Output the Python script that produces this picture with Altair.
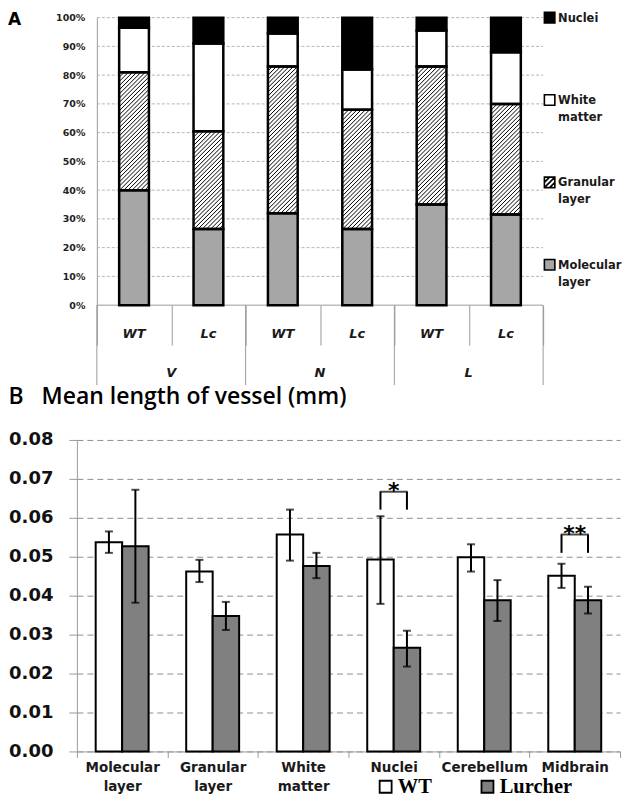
import altair as alt
import pandas as pd

# ---------------- Panel A data (percent of vessel length per layer) ----------------
a_regions = ["V", "V", "N", "N", "L", "L"]
a_genotypes = ["WT", "Lc", "WT", "Lc", "WT", "Lc"]
a_region_order = ["V", "N", "L"]
a_layers = ["Molecular layer", "Granular layer", "White matter", "Nuclei"]  # bottom -> top
a_molecular = [40.0, 26.5, 32.0, 26.5, 35.0, 31.5]
a_granular = [41.0, 34.0, 51.0, 41.5, 48.0, 38.5]
a_white = [15.5, 30.5, 11.5, 14.0, 12.5, 18.0]
a_nuclei = [3.5, 9.0, 5.5, 18.0, 4.5, 12.0]
a_y_ticks = [0, 10, 20, 30, 40, 50, 60, 70, 80, 90, 100]

# ---------------- Panel B data (mean length of vessel, mm) ----------------
b_categories = ["Molecular layer", "Granular layer", "White matter", "Nuclei", "Cerebellum", "Midbrain"]
b_groups = ["WT", "Lurcher"]
b_wt_mean = [0.0537, 0.0462, 0.0557, 0.0493, 0.0499, 0.0451]
b_wt_low = [0.0510, 0.0435, 0.0490, 0.0379, 0.0462, 0.0420]
b_wt_high = [0.0565, 0.0492, 0.0621, 0.0604, 0.0532, 0.0482]
b_lc_mean = [0.0527, 0.0348, 0.0476, 0.0266, 0.0388, 0.0388]
b_lc_low = [0.0382, 0.0312, 0.0445, 0.0218, 0.0335, 0.0354]
b_lc_high = [0.0672, 0.0384, 0.0510, 0.0310, 0.0440, 0.0423]
b_y_ticks = [0.0, 0.01, 0.02, 0.03, 0.04, 0.05, 0.06, 0.07, 0.08]
sig_categories = ["Nuclei", "Midbrain"]
sig_labels = ["*", "**"]
sig_top = [0.0667, 0.0557]
sig_leg = [0.0621, 0.0510]

# ---------------- sizes / styles ----------------
N_A = len(a_genotypes)
CAT_PX = 74.5              # width of one category in panel A
SHIFT_PX = 20              # panel A axis sits 20px right of panel B axis
W_A, H_A = CAT_PX * N_A + SHIFT_PX, 288
W_B, H_B = 544, 312
GRAY = "#9a9a9a"
BAR_W = 0.4                # bar width in category units (panel A)
HATCH_PX = 4.2             # vertical spacing of hatch lines in px
LEG_STEP_PX = 82.5         # vertical spacing of panel A legend entries

# ---------------- Panel A tables ----------------
rows = []
for i in range(N_A):
    vals = [a_molecular[i], a_granular[i], a_white[i], a_nuclei[i]]
    base = 0.0
    for lay, v in zip(a_layers, vals):
        rows.append(dict(idx=i, layer=lay, x0=i + 0.5 - BAR_W / 2, x1=i + 0.5 + BAR_W / 2,
                         y0=base, y1=base + v))
        base += v
dfA = pd.DataFrame(rows)

# hatch lines (45 degrees in pixel space) clipped to granular segments
px_y = H_A / 100.0
k = CAT_PX / px_y
step = HATCH_PX / px_y
hatch = []
for r in rows:
    if r["layer"] != "Granular layer":
        continue
    xL, xR, lo, hi = r["x0"], r["x1"], r["y0"], r["y1"]
    c = lo - k * (xR - xL)
    while c < hi:
        xa, ya = xL, c
        if ya < lo:
            xa, ya = xL + (lo - c) / k, lo
        xb, yb = xR, c + k * (xR - xL)
        if yb > hi:
            xb, yb = xL + (hi - c) / k, hi
        if xb > xa + 1e-6:
            hatch.append(dict(hx0=xa, hx1=xb, hy0=ya, hy1=yb))
        c += step
dfH = pd.DataFrame(hatch)

dfGrid = pd.DataFrame(dict(gv=a_y_ticks[1:], gx0=0, gx1=N_A))
dfBase = pd.DataFrame(dict(gv=[0], gx0=[0], gx1=[N_A]))
dfCat = pd.DataFrame(dict(xc=[i + 0.5 for i in range(N_A)], label=a_genotypes))
grp_c, grp_edges = [], set()
for g in a_region_order:
    idxs = [i for i, rr in enumerate(a_regions) if rr == g]
    grp_c.append((min(idxs) + max(idxs) + 1) / 2)
    grp_edges.update([min(idxs), max(idxs) + 1])
dfGrp = pd.DataFrame(dict(xc=grp_c, label=a_region_order))
dfEdge = pd.DataFrame(dict(e=sorted(grp_edges)))

legend_order = ["Nuclei", "White matter", "Granular layer", "Molecular layer"]
fill_range = ["#000000", "#ffffff", "#ffffff", "#a6a6a6"]
shape_range = ["square", "square",
               "M-1,-1H1V1H-1Z M-1,0L0,-1 M-1,1L1,-1 M0,1L1,0", "square"]
dfLegA = pd.DataFrame(dict(
    layer=legend_order,
    ly=[100 - j * LEG_STEP_PX / px_y for j in range(len(legend_order))],
    txt=[s.replace(" ", "\n") for s in legend_order]))

xsA = alt.Scale(domain=[-SHIFT_PX / CAT_PX, N_A], nice=False, zero=False)
ysA = alt.Scale(domain=[0, 100], nice=False)
axXA = alt.Axis(values=list(range(N_A + 1)), labels=False, tickSize=40, domain=False,
                tickColor=GRAY, grid=False, title=None)
axYA = alt.Axis(values=a_y_ticks, labelExpr="datum.value + '%'", title=None, grid=False,
                offset=-SHIFT_PX, domainColor=GRAY, ticks=False,
                labelFont="DejaVu Sans", labelFontWeight="bold", labelFontSize=9.5,
                labelColor="#222222", labelPadding=12)


def xA(f):
    return alt.X(f, scale=xsA, axis=axXA)


def yA(f):
    return alt.Y(f, scale=ysA, axis=axYA)


fillA = alt.Scale(domain=legend_order, range=fill_range)
shapeA = alt.Scale(domain=legend_order, range=shape_range)

gridA = alt.Chart(dfGrid).mark_rule(color="#b5b5b5", strokeWidth=1, strokeDash=[3, 2]).encode(
    x=xA("gx0:Q"), x2="gx1:Q", y=yA("gv:Q"))
baseLine = alt.Chart(dfBase).mark_rule(color=GRAY, strokeWidth=1).encode(
    x=xA("gx0:Q"), x2="gx1:Q", y=yA("gv:Q"))
baseA = alt.Chart(dfA)
barsA = baseA.mark_bar().encode(
    x=xA("x0:Q"), x2="x1:Q", y=yA("y0:Q"), y2="y1:Q",
    fill=alt.Fill("layer:N", scale=fillA, legend=None))
hatchA = alt.Chart(dfH).mark_rule(color="black", strokeWidth=1).encode(
    x=xA("hx0:Q"), x2="hx1:Q", y=yA("hy0:Q"), y2="hy1:Q")
outlineA = baseA.mark_bar(fillOpacity=0, stroke="black", strokeWidth=2.5).encode(
    x=xA("x0:Q"), x2="x1:Q", y=yA("y0:Q"), y2="y1:Q")
legSym = alt.Chart(dfLegA).mark_point(filled=True, size=110, opacity=1, stroke="black",
                                       strokeWidth=1.6).encode(
    x=alt.value(W_A + 6.5), y=yA("ly:Q"),
    fill=alt.Fill("layer:N", scale=fillA, legend=None),
    shape=alt.Shape("layer:N", scale=shapeA, legend=None))
legTxt = alt.Chart(dfLegA).mark_text(font="DejaVu Sans", fontWeight="bold", fontSize=11.5,
                                     align="left", baseline="top", dy=-5, lineBreak="\n",
                                     lineHeight=17, color="#1a1a1a").encode(
    x=alt.value(W_A + 15), y=yA("ly:Q"), text="txt:N")
edgesA = alt.Chart(dfEdge).mark_rule(color=GRAY, strokeWidth=1).encode(
    x=xA("e:Q"), y=alt.value(H_A), y2=alt.value(H_A + 80))
catTxt = alt.Chart(dfCat).mark_text(font="DejaVu Sans", fontWeight="bold", fontStyle="italic",
                                    fontSize=13, color="#1a1a1a", baseline="middle").encode(
    x=xA("xc:Q"), y=alt.value(H_A + 29), text="label:N")
grpTxt = alt.Chart(dfGrp).mark_text(font="DejaVu Sans", fontWeight="bold", fontStyle="italic",
                                    fontSize=13, color="#1a1a1a", baseline="middle").encode(
    x=xA("xc:Q"), y=alt.value(H_A + 68), text="label:N")
letterA = alt.Chart(pd.DataFrame(dict(t=["A"]))).mark_text(
    font="DejaVu Sans", fontWeight="bold", fontSize=17, align="left", baseline="top",
    color="black").encode(x=alt.value(-69), y=alt.value(-6), text="t:N")

chartA = alt.layer(gridA, baseLine, barsA, hatchA, outlineA, legSym, legTxt, edgesA, catTxt,
                   grpTxt, letterA).properties(width=W_A, height=H_A)

# ---------------- Panel B tables ----------------
rowsB, capsB = [], []
for i, cat in enumerate(b_categories):
    for g, m, lo, hi in [("WT", b_wt_mean[i], b_wt_low[i], b_wt_high[i]),
                         ("Lurcher", b_lc_mean[i], b_lc_low[i], b_lc_high[i])]:
        rowsB.append(dict(category=cat, group=g, mean=m, low=lo, high=hi))
        capsB.append(dict(category=cat, group=g, v=lo))
        capsB.append(dict(category=cat, group=g, v=hi))
dfB = pd.DataFrame(rowsB)
dfCaps = pd.DataFrame(capsB)
legs = []
for cat, lab, top, leg in zip(sig_categories, sig_labels, sig_top, sig_leg):
    for g in b_groups:
        legs.append(dict(category=cat, group=g, top=top, leg=leg))
dfLegs = pd.DataFrame(legs)
dfSig = pd.DataFrame(dict(category=sig_categories, label=sig_labels, top=sig_top))

xsB = alt.Scale(domain=b_categories, paddingInner=0, paddingOuter=0)
axXB = alt.Axis(title=None, labelAngle=0, labelExpr="split(datum.label, ' ')",
                labelFont="DejaVu Sans", labelFontWeight="bold", labelFontSize=13.5,
                labelColor="#1a1a1a", labelLineHeight=19, labelPadding=3, tickBand="extent",
                tickSize=6, tickColor=GRAY, domainColor=GRAY, grid=False)
ysB = alt.Scale(domain=[0, 0.08], nice=False, zero=True)
axYB = alt.Axis(values=b_y_ticks, format=".2f", title=None, grid=True, gridDash=[6, 4],
                gridColor="#8f8f8f", domainColor=GRAY, tickColor=GRAY, tickSize=8,
                labelFont="DejaVu Sans", labelFontWeight="bold", labelFontSize=18,
                labelColor="#111111", labelPadding=16)
xoB = alt.XOffset("group:N", sort=b_groups, scale=alt.Scale(domain=b_groups, paddingOuter=0.71,
                                                            paddingInner=0))


def xB(f="category:N"):
    return alt.X(f, scale=xsB, axis=axXB, sort=b_categories)


def yB(f):
    return alt.Y(f, scale=ysB, axis=axYB)


legB = alt.Legend(title=None, orient="none", legendX=299, legendY=337, direction="horizontal",
                  symbolType="square", symbolSize=144, symbolStrokeColor="black",
                  symbolStrokeWidth=1.8, labelFont="Liberation Serif", labelFontWeight="bold",
                  labelFontSize=20.5, labelColor="black", labelOffset=2, columnPadding=45)

barsB = alt.Chart(dfB).mark_bar(stroke="black", strokeWidth=2).encode(
    x=xB(), xOffset=xoB, y=yB("mean:Q"),
    fill=alt.Fill("group:N", scale=alt.Scale(domain=b_groups, range=["#ffffff", "#808080"]),
                  legend=legB))
errB = alt.Chart(dfB).mark_rule(color="black", strokeWidth=2).encode(
    x=xB(), xOffset=xoB, y=yB("low:Q"), y2="high:Q")
capB = alt.Chart(dfCaps).mark_tick(color="black", thickness=2, size=8).encode(
    x=xB(), xOffset=xoB, y=yB("v:Q"))
legB_r = alt.Chart(dfLegs).mark_rule(color="black", strokeWidth=2).encode(
    x=xB(), xOffset=xoB, y=yB("leg:Q"), y2="top:Q")
topB = alt.Chart(dfSig).mark_tick(color="black", thickness=2, size=28).encode(
    x=xB(), y=yB("top:Q"))
starB = alt.Chart(dfSig).mark_text(font="DejaVu Sans", fontWeight="bold", fontSize=22,
                                   baseline="alphabetic", dy=6, color="black").encode(
    x=xB(), y=yB("top:Q"), text="label:N")

chartB = alt.layer(barsB, errB, capB, legB_r, topB, starB).properties(
    width=W_B, height=H_B,
    title=alt.TitleParams("B\u00a0\u00a0\u00a0Mean length of vessel (mm)", anchor="start",
                          frame="bounds", font="Open Sans", fontSize=23, fontWeight=600,
                          color="black", offset=22))

chart = alt.vconcat(chartA, chartB, spacing=0).properties(padding=0).resolve_scale(
    fill="independent", shape="independent").resolve_legend(
    fill="independent", shape="independent").configure_view(strokeWidth=0)

chart.save("out.html", embed_options={"renderer": "svg", "actions": False})
